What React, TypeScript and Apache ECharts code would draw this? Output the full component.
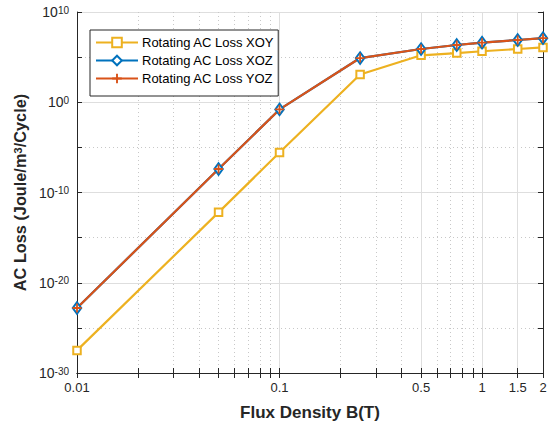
import React, { useEffect, useRef } from "react";
import * as echarts from "echarts";

const fluxDensity = [0.01, 0.05, 0.1, 0.25, 0.5, 0.75, 1, 1.5, 2];
const lossXOY = [3.2e-28, 6.3e-13, 2.7e-6, 1.2e3, 1.6e5, 2.8e5, 4.5e5, 7.9e5, 1.2e6];
const lossXOZ = [1.6e-23, 4.0e-8, 0.16, 7.9e4, 7.9e5, 2.2e6, 4.0e6, 7.9e6, 1.26e7];
const lossYOZ = [1.6e-23, 4.0e-8, 0.16, 7.9e4, 7.9e5, 2.2e6, 4.0e6, 7.9e6, 1.26e7];

const xMajorTicks = [0.01, 0.1, 0.5, 1, 1.5, 2];
const xMinorTicks = [0.02, 0.03, 0.04, 0.05, 0.06, 0.07, 0.08, 0.09, 0.2, 0.3, 0.4, 0.6, 0.7, 0.8, 0.9];
const yMajorTicks = [1e-30, 1e-20, 1e-10, 1, 1e10];
const yMinorTicks = [1e-25, 1e-15, 1e-5, 1e5];

const seriesNames = ["Rotating AC Loss XOY", "Rotating AC Loss XOZ", "Rotating AC Loss YOZ"];

const FONT = "Liberation Sans, Arial, Helvetica, sans-serif";
const AXIS = "#262626";
const GRID_MAJOR = "#dedede";
const GRID_MINOR = "#c8c8c8";

const PLUS = "path://M4,0H6V4H10V6H6V10H4V6H0V4H4Z";

const hiddenTick = (vals: number[]) => ({
  show: true,
  inside: true,
  length: 0,
  customValues: vals,
  lineStyle: { color: "rgba(0,0,0,0)", width: 0 },
});

function xAxisBase(extra: any) {
  return {
    type: "log",
    logBase: 10,
    min: 0.01,
    max: 2,
    gridIndex: 0,
    axisLine: { show: false },
    axisTick: { show: false },
    axisLabel: { show: false },
    splitLine: { show: false },
    ...extra,
  };
}
function yAxisBase(extra: any) {
  return {
    type: "log",
    logBase: 10,
    min: 1e-30,
    max: 1e10,
    gridIndex: 0,
    axisLine: { show: false },
    axisTick: { show: false },
    axisLabel: { show: false },
    splitLine: { show: false },
    ...extra,
  };
}

export default function App() {
  const ref = useRef<HTMLDivElement>(null);
  useEffect(() => {
    const chart = echarts.init(ref.current!, null, { renderer: "svg" });
    const allX = [...xMajorTicks, ...xMinorTicks].sort((a, b) => a - b);
    const allY = [...yMajorTicks, ...yMinorTicks].sort((a, b) => a - b);
    const xData = (vals: number[]) => fluxDensity.map((x, i) => [x, vals[i]]);
    chart.setOption({
      animation: false,
      backgroundColor: "#ffffff",
      grid: { left: 77, right: 9, top: 8, bottom: 51, containLabel: false },
      legend: {
        orient: "vertical",
        left: 90,
        top: 30,
        padding: [6, 4, 11, 5],
        itemGap: 5,
        itemWidth: 42,
        itemHeight: 12,
        backgroundColor: "#ffffff",
        borderColor: AXIS,
        borderWidth: 1,
        textStyle: { fontFamily: FONT, fontSize: 13, color: "#000000", padding: [0, 0, 0, -1] },
        data: seriesNames,
      },
      xAxis: [
        xAxisBase({
          position: "bottom",
          axisTick: hiddenTick(xMajorTicks),
          splitLine: { show: true, lineStyle: { color: GRID_MAJOR, width: 1, type: "solid" } },
        }),
        xAxisBase({
          position: "bottom",
          axisTick: hiddenTick(xMinorTicks),
          splitLine: { show: true, lineStyle: { color: GRID_MINOR, width: 1, type: [1, 3] } },
        }),
        xAxisBase({
          position: "bottom",
          name: "Flux Density B(T)",
          nameLocation: "middle",
          nameGap: 31,
          nameTextStyle: { fontFamily: FONT, fontSize: 17, fontWeight: "bold", color: AXIS },
          axisLine: { show: true, lineStyle: { color: AXIS, width: 1 } },
          axisTick: { show: true, inside: true, length: 5, customValues: allX, lineStyle: { color: AXIS } },
          axisLabel: {
            show: true,
            customValues: xMajorTicks,
            margin: 8,
            fontFamily: FONT,
            fontSize: 13,
            color: AXIS,
            formatter: (v: number) => String(Number(v.toPrecision(3))),
          },
        }),
        xAxisBase({
          position: "top",
          axisLine: { show: true, lineStyle: { color: AXIS, width: 1 } },
          axisTick: { show: true, inside: true, length: 5, customValues: allX, lineStyle: { color: AXIS } },
        }),
      ],
      yAxis: [
        yAxisBase({
          position: "left",
          axisTick: hiddenTick(yMajorTicks),
          splitLine: { show: true, lineStyle: { color: GRID_MAJOR, width: 1, type: "solid" } },
        }),
        yAxisBase({
          position: "left",
          axisTick: hiddenTick(yMinorTicks),
          splitLine: { show: true, lineStyle: { color: GRID_MINOR, width: 1, type: [1, 3] } },
        }),
        yAxisBase({
          position: "left",
          name: "AC Loss (Joule/m{sup|3}/Cycle)",
          nameLocation: "middle",
          nameGap: 39,
          nameTextStyle: {
            fontFamily: FONT,
            fontSize: 16.3,
            fontWeight: "bold",
            color: AXIS,
            rich: {
              sup: { fontFamily: FONT, fontSize: 11.5, fontWeight: "bold", color: AXIS, verticalAlign: "top", lineHeight: 11.5 },
            },
          },
          axisLine: { show: true, lineStyle: { color: AXIS, width: 1 } },
          axisTick: { show: true, inside: true, length: 5, customValues: allY, lineStyle: { color: AXIS } },
          axisLabel: {
            show: true,
            customValues: yMajorTicks,
            margin: 8,
            color: AXIS,
            formatter: (v: number) => `{b|10}{s|${Math.round(Math.log10(v))}}`,
            rich: {
              b: { fontFamily: FONT, fontSize: 14, color: AXIS, lineHeight: 14, verticalAlign: "bottom", padding: [5, 0, 0, 0] },
              s: { fontFamily: FONT, fontSize: 10, color: AXIS, lineHeight: 10, verticalAlign: "top" },
            },
          },
        }),
        yAxisBase({
          position: "right",
          axisLine: { show: true, lineStyle: { color: AXIS, width: 1 } },
          axisTick: { show: true, inside: true, length: 5, customValues: allY, lineStyle: { color: AXIS } },
        }),
      ],
      series: [
        {
          name: seriesNames[0],
          type: "line",
          xAxisIndex: 2,
          yAxisIndex: 2,
          data: xData(lossXOY),
          symbol: "emptyRect",
          symbolSize: 7.5,
          lineStyle: { color: "#EDB120", width: 2.2 },
          itemStyle: { color: "#EDB120", borderColor: "#EDB120", borderWidth: 2 },
        },
        {
          name: seriesNames[1],
          type: "line",
          xAxisIndex: 2,
          yAxisIndex: 2,
          data: xData(lossXOZ),
          symbol: "emptyDiamond",
          symbolSize: [8.5, 11.5],
          lineStyle: { color: "#0072BD", width: 2.2 },
          itemStyle: { color: "#0072BD", borderColor: "#0072BD", borderWidth: 2 },
        },
        {
          name: seriesNames[2],
          type: "line",
          xAxisIndex: 2,
          yAxisIndex: 2,
          data: xData(lossYOZ),
          symbol: PLUS,
          symbolSize: 9,
          lineStyle: { color: "#D95319", width: 2.2 },
          itemStyle: { color: "#D95319" },
        },
      ],
    });
    return () => chart.dispose();
  }, []);
  return <div ref={ref} style={{ width: 552, height: 426, position: "absolute", left: 0, top: 0 }} />;
}
